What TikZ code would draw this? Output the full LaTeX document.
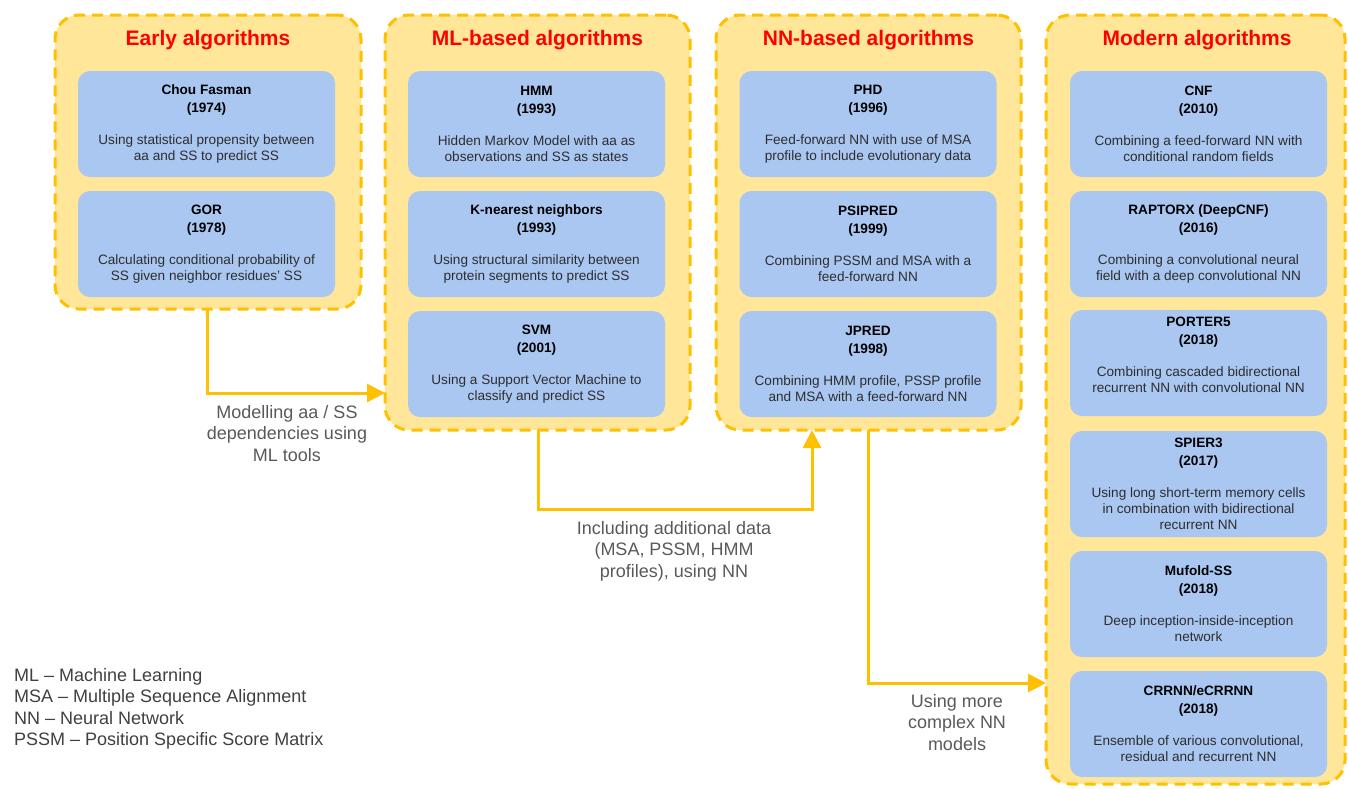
\documentclass[tikz,border=0pt]{standalone}
\usepackage{fontspec}
\setmainfont{Liberation Sans}
\usetikzlibrary{arrows.meta}
\definecolor{gold}{RGB}{255,192,0}
\definecolor{paleyellow}{RGB}{255,230,153}
\definecolor{boxblue}{RGB}{170,199,242}
\definecolor{titlered}{RGB}{255,0,0}
\definecolor{labelgray}{RGB}{89,89,89}
\definecolor{legendgray}{RGB}{64,64,64}
\definecolor{desctext}{RGB}{45,45,45}
\newcommand\algtext[3]{\textbf{\color{black}#1}\\[2pt]\textbf{\color{black}#2}\\[16pt]#3}
\begin{document}
\begin{tikzpicture}[x=1pt,y=-1pt,
 group/.style={draw=gold, fill=paleyellow, line width=3pt, dash pattern=on 11pt off 7pt, rounded corners=24pt, inner sep=0pt, outer sep=0pt},
 grouptitle/.style={text=titlered, font=\fontsize{21}{25}\selectfont\bfseries, inner sep=0pt},
 algbox/.style={fill=boxblue, rounded corners=12pt, minimum width=257pt, minimum height=106pt, inner sep=0pt, outer sep=0pt, align=center, text=desctext, font=\fontsize{13.6}{16}\selectfont},
 conn/.style={draw=gold, line width=3pt, -{Triangle[length=18pt,width=18pt]}},
 steplabel/.style={text=labelgray, font=\fontsize{18}{21.5}\selectfont, align=center, anchor=north, inner sep=0pt},
]
\useasboundingbox (0,0) rectangle (1348,788);

% groups
\node[group, minimum width=306pt, minimum height=294pt] (early) at (208,162) {};
\node[group, minimum width=305pt, minimum height=415pt] (ml) at (537.5,222.5) {};
\node[group, minimum width=305pt, minimum height=415pt] (nn) at (868.5,222.5) {};
\node[group, minimum width=299pt, minimum height=769pt] (modern) at (1195.5,399.5) {};

% group titles
\node[grouptitle] (t1) at (208,40) {Early algorithms};
\node[grouptitle] (t2) at (537.5,40) {ML-based algorithms};
\node[grouptitle] (t3) at (868.5,40) {NN-based algorithms};
\node[grouptitle] (t4) at (1197,40) {Modern algorithms};

% early
\node[algbox] (chou) at (206.5,124) {\algtext{Chou Fasman}{(1974)}{Using statistical propensity between\\aa and SS to predict SS}};
\node[algbox] (gor) at (206.5,244) {\algtext{GOR}{(1978)}{Calculating conditional probability of\\SS given neighbor residues' SS}};

% ML
\node[algbox] (hmm) at (536.5,124) {\algtext{HMM}{(1993)}{Hidden Markov Model with aa as\\observations and SS as states}};
\node[algbox] (knn) at (536.5,244) {\algtext{K-nearest neighbors}{(1993)}{Using structural similarity between\\protein segments to predict SS}};
\node[algbox] (svm) at (536.5,364) {\algtext{SVM}{(2001)}{Using a Support Vector Machine to\\classify and predict SS}};

% NN
\node[algbox] (phd) at (868,124) {\algtext{PHD}{(1996)}{Feed-forward NN with use of MSA\\profile to include evolutionary data}};
\node[algbox] (psipred) at (868,244) {\algtext{PSIPRED}{(1999)}{Combining PSSM and MSA with a\\feed-forward NN}};
\node[algbox] (jpred) at (868,364) {\algtext{JPRED}{(1998)}{Combining HMM profile, PSSP profile\\and MSA with a feed-forward NN}};

% modern
\node[algbox] (cnf) at (1198.5,124) {\algtext{CNF}{(2010)}{Combining a feed-forward NN with\\conditional random fields}};
\node[algbox] (raptorx) at (1198.5,244) {\algtext{RAPTORX (DeepCNF)}{(2016)}{Combining a convolutional neural\\field with a deep convolutional NN}};
\node[algbox] (porter) at (1198.5,363) {\algtext{PORTER5}{(2018)}{Combining cascaded bidirectional\\recurrent NN with convolutional NN\\\mbox{}}};
\node[algbox] (spier) at (1198.5,484) {\algtext{SPIER3}{(2017)}{Using long short-term memory cells\\in combination with bidirectional\\recurrent NN}};
\node[algbox] (mufold) at (1198.5,604) {\algtext{Mufold-SS}{(2018)}{Deep inception-inside-inception\\network}};
\node[algbox] (crrnn) at (1198.5,724) {\algtext{CRRNN/eCRRNN}{(2018)}{Ensemble of various convolutional,\\residual and recurrent NN}};

% connector helper coordinates
\coordinate (x1) at (207,0);
\coordinate (y1) at (0,393);
\coordinate (x2a) at (538,0);
\coordinate (x2b) at (812,0);
\coordinate (y2) at (0,509);
\coordinate (x3) at (868,0);
\coordinate (y3) at (0,683);

\draw[conn] (early.south -| x1) |- (ml.west |- y1);
\draw[conn] (ml.south -| x2a) -- (x2a |- y2) -- (x2b |- y2) -- (nn.south -| x2b);
\draw[conn] (nn.south -| x3) |- (modern.west |- y3);

% step labels
\node[steplabel] (l1) at (287,405) {Modelling aa / SS\\dependencies using\\ML tools};
\node[steplabel] (l2) at (674,521) {Including additional data\\(MSA, PSSM, HMM\\profiles), using NN};
\node[steplabel] (l3) at (957,694) {Using more\\complex NN\\models};

% legend
\node[anchor=north west, inner sep=0pt, text=legendgray, font=\fontsize{18}{21.5}\selectfont, align=left] (legend) at (14,668) {ML – Machine Learning\\MSA – Multiple Sequence Alignment\\NN – Neural Network\\PSSM – Position Specific Score Matrix};
\end{tikzpicture}
\end{document}
